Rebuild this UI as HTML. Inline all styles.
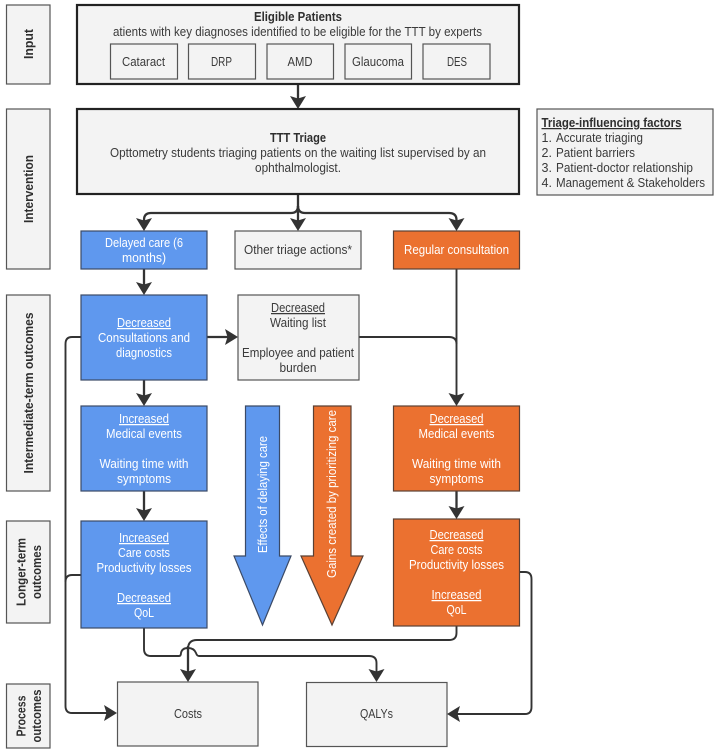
<!DOCTYPE html>
<html>
<head>
<meta charset="utf-8">
<style>
html,body{margin:0;padding:0;background:#fff;}
svg{display:block;filter:blur(0.3px);}
text{font-family:"Liberation Sans",sans-serif;font-size:12.5px;fill:#3a3a3a;text-anchor:middle;}
.w{fill:#fff;}
.b{font-weight:bold;fill:#2e2e2e;}
.u{text-decoration:underline;}
.l{text-anchor:start;}
.g{fill:#f3f3f3;stroke:#555;stroke-width:1.2;}
.k{fill:#f3f3f3;stroke:#222;stroke-width:2.2;}
.bl{fill:#5f98ee;stroke:#3b4a66;stroke-width:1.2;}
.or{fill:#eb7130;stroke:#5a4034;stroke-width:1.2;}
.c{fill:none;stroke:#333;stroke-width:1.9;}
.t{fill:none;stroke:#333;stroke-width:2.3;}
.h{fill:#333;stroke:none;}
</style>
</head>
<body>
<svg width="721" height="753" viewBox="0 0 721 753" xmlns="http://www.w3.org/2000/svg">
<rect width="721" height="753" fill="#fff"/>

<!-- left labels -->
<rect class="g" x="6.5" y="5" width="43.5" height="79"/>
<rect class="g" x="6.5" y="109" width="43.5" height="160"/>
<rect class="g" x="6.5" y="295" width="43.5" height="196"/>
<rect class="g" x="6.5" y="521" width="43.5" height="102"/>
<rect class="g" x="6.5" y="684" width="43.5" height="64"/>
<text class="b" transform="translate(33,44) rotate(-90)" textLength="30" lengthAdjust="spacingAndGlyphs">Input</text>
<text class="b" transform="translate(33,189) rotate(-90)" textLength="68" lengthAdjust="spacingAndGlyphs">Intervention</text>
<text class="b" transform="translate(33,393) rotate(-90)" textLength="161" lengthAdjust="spacingAndGlyphs">Intermediate-term outcomes</text>
<text class="b" transform="translate(25.5,572) rotate(-90)" textLength="68" lengthAdjust="spacingAndGlyphs">Longer-term</text>
<text class="b" transform="translate(41,572) rotate(-90)" textLength="54" lengthAdjust="spacingAndGlyphs">outcomes</text>
<text class="b" transform="translate(25.5,716) rotate(-90)" textLength="41" lengthAdjust="spacingAndGlyphs">Process</text>
<text class="b" transform="translate(41,716) rotate(-90)" textLength="53" lengthAdjust="spacingAndGlyphs">outcomes</text>

<!-- connectors -->
<path class="t" d="M298 84V100"/>
<path class="t" d="M298 194V222"/>
<path class="t" d="M298 206Q298 213 291 213H151Q144 213 144 220V224"/>
<path class="t" d="M298 206Q298 213 305 213H449Q456.5 213 456.5 220V224"/>
<path class="t" d="M144 269V288"/>
<path class="t" d="M144 380V399"/>
<path class="t" d="M144 491V514"/>
<path class="t" d="M207 337H230"/>
<path class="c" d="M456.5 269V398"/>
<path class="c" d="M359 337H449Q456.5 337 456.5 344"/>
<path class="t" d="M456.5 491V512"/>
<path class="c" d="M81 337H72Q65.5 337 65.5 344V706Q65.5 713 72 713H110"/>
<path class="c" d="M81 575H72Q65.5 575 65.5 582"/>
<path class="c" d="M144 628V649Q144 656 151 656H179Q181 656 181 653Q182 648 188 648Q194 648 196 653Q197 656 199 656H369Q376.5 656 376.5 663V674"/>
<path class="c" d="M456.5 626V633Q456.5 640 449 640H197Q188 640 188 649"/>
<path class="t" d="M188 646V674"/>
<path class="c" d="M520 572H525Q531.5 572 531.5 579V707Q531.5 714 525 714H454"/>

<!-- arrowheads -->
<polygon class="h" points="298,109 290,96 298,98.5 306,96"/>
<polygon class="h" points="298,231 290,218 298,220.5 306,218"/>
<polygon class="h" points="144,231 136,218 144,220.5 152,218"/>
<polygon class="h" points="456.5,231 448.5,218 456.5,220.5 464.5,218"/>
<polygon class="h" points="144,295 136,282 144,284.5 152,282"/>
<polygon class="h" points="144,406 136,393 144,395.5 152,393"/>
<polygon class="h" points="144,521 136,508 144,510.5 152,508"/>
<polygon class="h" points="238,337 225,329 227.5,337 225,345"/>
<polygon class="h" points="456.5,406 448.5,393 456.5,395.5 464.5,393"/>
<polygon class="h" points="456.5,519 448.5,506 456.5,508.5 464.5,506"/>
<polygon class="h" points="188,682 180,669 188,671.5 196,669"/>
<polygon class="h" points="376.5,682 368.5,669 376.5,671.5 384.5,669"/>
<polygon class="h" points="117,713 104,705 106.5,713 104,721"/>
<polygon class="h" points="447,714 460,706 457.5,714 460,722"/>

<!-- eligible patients -->
<rect class="k" x="77" y="5" width="442" height="79"/>
<text class="b" x="298" y="21" textLength="88" lengthAdjust="spacingAndGlyphs">Eligible Patients</text>
<text x="297.5" y="36" textLength="369" lengthAdjust="spacingAndGlyphs">atients with key diagnoses identified to be eligible for the TTT by experts</text>
<rect class="g" x="110.5" y="44" width="67" height="35"/>
<rect class="g" x="188.5" y="44" width="67" height="35"/>
<rect class="g" x="267" y="44" width="66.5" height="35"/>
<rect class="g" x="345" y="44" width="66.5" height="35"/>
<rect class="g" x="423" y="44" width="67" height="35"/>
<text x="143.5" y="66" textLength="43" lengthAdjust="spacingAndGlyphs">Cataract</text>
<text x="221.5" y="66" textLength="21" lengthAdjust="spacingAndGlyphs">DRP</text>
<text x="300" y="66" textLength="25" lengthAdjust="spacingAndGlyphs">AMD</text>
<text x="378" y="66" textLength="52" lengthAdjust="spacingAndGlyphs">Glaucoma</text>
<text x="457" y="66" textLength="20" lengthAdjust="spacingAndGlyphs">DES</text>

<!-- triage -->
<rect class="k" x="77" y="109" width="442" height="85"/>
<text class="b" x="298" y="142" textLength="56" lengthAdjust="spacingAndGlyphs">TTT Triage</text>
<text x="298" y="157" textLength="376" lengthAdjust="spacingAndGlyphs">Opttometry students triaging patients on the waiting list supervised by an</text>
<text x="298" y="172" textLength="86" lengthAdjust="spacingAndGlyphs">ophthalmologist.</text>

<!-- factors -->
<rect class="g" x="537" y="109" width="176" height="86"/>
<text class="b u l" x="541.5" y="127" textLength="140" lengthAdjust="spacingAndGlyphs">Triage-influencing factors</text>
<text class="l" x="541.5" y="142">1.</text>
<text class="l" x="556" y="142" textLength="87" lengthAdjust="spacingAndGlyphs">Accurate triaging</text>
<text class="l" x="541.5" y="157">2.</text>
<text class="l" x="556" y="157" textLength="79" lengthAdjust="spacingAndGlyphs">Patient barriers</text>
<text class="l" x="541.5" y="172">3.</text>
<text class="l" x="556" y="172" textLength="137" lengthAdjust="spacingAndGlyphs">Patient-doctor relationship</text>
<text class="l" x="541.5" y="187">4.</text>
<text class="l" x="556" y="187" textLength="149" lengthAdjust="spacingAndGlyphs">Management &amp; Stakeholders</text>

<!-- triage results -->
<rect class="bl" x="81" y="231" width="126" height="38"/>
<text class="w" x="144" y="247" textLength="78" lengthAdjust="spacingAndGlyphs">Delayed care (6</text>
<text class="w" x="144" y="262" textLength="44" lengthAdjust="spacingAndGlyphs">months)</text>
<rect class="g" x="235" y="231" width="126" height="38"/>
<text x="298" y="254" textLength="108" lengthAdjust="spacingAndGlyphs">Other triage actions*</text>
<rect class="or" x="393.5" y="231" width="126" height="38"/>
<text class="w" x="456.5" y="254" textLength="105" lengthAdjust="spacingAndGlyphs">Regular consultation</text>

<!-- blue 1 -->
<rect class="bl" x="81" y="295" width="126" height="85"/>
<text class="w u" x="144" y="327" textLength="54" lengthAdjust="spacingAndGlyphs">Decreased</text>
<text class="w" x="144" y="342" textLength="92" lengthAdjust="spacingAndGlyphs">Consultations and</text>
<text class="w" x="144" y="357" textLength="56" lengthAdjust="spacingAndGlyphs">diagnostics</text>

<!-- grey -->
<rect class="g" x="238" y="295" width="121" height="85"/>
<text class="u" x="298" y="312" textLength="54" lengthAdjust="spacingAndGlyphs">Decreased</text>
<text x="298" y="327" textLength="56" lengthAdjust="spacingAndGlyphs">Waiting list</text>
<text x="298" y="357" textLength="112" lengthAdjust="spacingAndGlyphs">Employee and patient</text>
<text x="298" y="372" textLength="37" lengthAdjust="spacingAndGlyphs">burden</text>

<!-- blue 2 -->
<rect class="bl" x="81" y="406" width="126" height="85"/>
<text class="w u" x="144" y="423" textLength="50" lengthAdjust="spacingAndGlyphs">Increased</text>
<text class="w" x="144" y="438" textLength="76" lengthAdjust="spacingAndGlyphs">Medical events</text>
<text class="w" x="144" y="468" textLength="89" lengthAdjust="spacingAndGlyphs">Waiting time with</text>
<text class="w" x="144" y="483" textLength="54" lengthAdjust="spacingAndGlyphs">symptoms</text>

<!-- orange 2 -->
<rect class="or" x="393.5" y="406" width="126" height="85"/>
<text class="w u" x="456.5" y="423" textLength="54" lengthAdjust="spacingAndGlyphs">Decreased</text>
<text class="w" x="456.5" y="438" textLength="76" lengthAdjust="spacingAndGlyphs">Medical events</text>
<text class="w" x="456.5" y="468" textLength="89" lengthAdjust="spacingAndGlyphs">Waiting time with</text>
<text class="w" x="456.5" y="483" textLength="54" lengthAdjust="spacingAndGlyphs">symptoms</text>

<!-- blue 3 -->
<rect class="bl" x="81" y="521" width="126" height="107"/>
<text class="w u" x="144" y="542" textLength="50" lengthAdjust="spacingAndGlyphs">Increased</text>
<text class="w" x="144" y="557" textLength="52" lengthAdjust="spacingAndGlyphs">Care costs</text>
<text class="w" x="144" y="572" textLength="95" lengthAdjust="spacingAndGlyphs">Productivity losses</text>
<text class="w u" x="144" y="602" textLength="54" lengthAdjust="spacingAndGlyphs">Decreased</text>
<text class="w" x="144" y="617" textLength="20" lengthAdjust="spacingAndGlyphs">QoL</text>

<!-- orange 3 -->
<rect class="or" x="393.5" y="519" width="126" height="107"/>
<text class="w u" x="456.5" y="539" textLength="54" lengthAdjust="spacingAndGlyphs">Decreased</text>
<text class="w" x="456.5" y="554" textLength="52" lengthAdjust="spacingAndGlyphs">Care costs</text>
<text class="w" x="456.5" y="569" textLength="95" lengthAdjust="spacingAndGlyphs">Productivity losses</text>
<text class="w u" x="456.5" y="599" textLength="50" lengthAdjust="spacingAndGlyphs">Increased</text>
<text class="w" x="456.5" y="614" textLength="20" lengthAdjust="spacingAndGlyphs">QoL</text>

<!-- big arrows -->
<polygon class="bl" points="245.5,406 279.5,406 279.5,556 291,556 262.5,625 234,556 245.5,556"/>
<polygon class="or" points="313.5,406 351,406 351,556 363,556 332,625 301,556 313.5,556"/>
<text class="w" transform="translate(267,494.5) rotate(-90)" textLength="117" lengthAdjust="spacingAndGlyphs">Effects of delaying care</text>
<text class="w" transform="translate(336,494) rotate(-90)" textLength="168" lengthAdjust="spacingAndGlyphs">Gains created by prioritizing care</text>

<!-- outcomes -->
<rect class="g" x="117.5" y="682" width="140.5" height="64"/>
<text x="188" y="718" textLength="28" lengthAdjust="spacingAndGlyphs">Costs</text>
<rect class="g" x="306.5" y="682.5" width="140.5" height="64"/>
<text x="376.5" y="718" textLength="33" lengthAdjust="spacingAndGlyphs">QALYs</text>
</svg>
</body>
</html>
